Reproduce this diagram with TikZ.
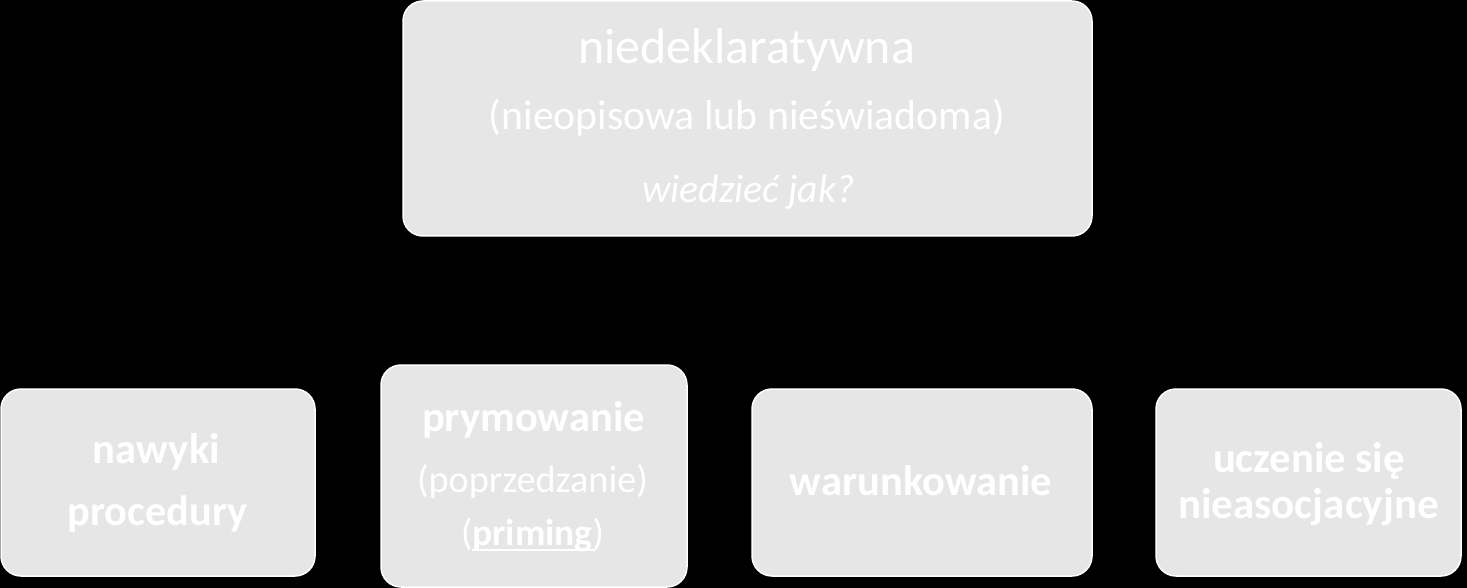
\documentclass[tikz,border=0pt]{standalone}
\usepackage{fontspec}
\setmainfont{Carlito}
\usepackage{graphicx}
\definecolor{boxfill}{HTML}{E6E6E6}
\tikzset{
  card/.style={draw=white, line width=1.5pt, fill=boxfill, rounded corners=20pt, inner sep=0pt},
  txt/.style={text=white, inner sep=0pt, anchor=base},
  uline/.style={draw=white, line width=2pt},
}
\newcommand{\fitto}[2]{\resizebox{#1pt}{!}{\fontsize{40}{48}\selectfont #2}}
\begin{document}
\begin{tikzpicture}[x=1pt,y=1pt]
\fill[black] (0,0) rectangle (1467,-588);
\useasboundingbox (0,0) rectangle (1467,-588);
% boxes
\node[card, minimum width=689pt, minimum height=235pt] (top) at (747.5,-118.5) {};
\node[card, minimum width=314pt, minimum height=187pt] (b1) at (158,-482.5) {};
\node[card, minimum width=306pt, minimum height=222pt] (b2) at (534,-476) {};
\node[card, minimum width=340pt, minimum height=187pt] (b3) at (922,-482.5) {};
\node[card, minimum width=305pt, minimum height=187pt] (b4) at (1308.5,-482.5) {};
% top texts
\node[txt] (t1) at (746.5,-64) {\fitto{337}{niedeklaratywna}};
\node[txt] (t2) at (747,-130) {\fitto{516}{(nieopisowa lub nieświadoma)}};
\node[txt] (t3) at (748.5,-203) {\fitto{213}{\itshape wiedzieć jak?}};
% box 1
\node[txt] (n1) at (156.5,-463) {\fitto{127}{\bfseries nawyki}};
\node[txt] (n2) at (157.5,-525) {\fitto{180}{\bfseries procedury}};
% box 2
\node[txt] (p1) at (533.5,-431) {\fitto{223}{\bfseries prymowanie}};
\node[txt] (p2) at (532.5,-492) {\fitto{231}{(poprzedzanie)}};
\node[txt] (pri) at (532.5,-545) {\fitto{143}{(\textbf{priming})}};
\draw[uline] ([shift={(-60.5,-5)}]pri.base) -- ([shift={(62.5,-5)}]pri.base);
% box 3
\node[txt] (w1) at (921,-495) {\fitto{262}{\bfseries warunkowanie}};
% box 4
\node[txt] (u1) at (1309,-472) {\fitto{192}{\bfseries uczenie się}};
\node[txt] (u2) at (1308.5,-518) {\fitto{261}{\bfseries nieasocjacyjne}};
\end{tikzpicture}
\end{document}
